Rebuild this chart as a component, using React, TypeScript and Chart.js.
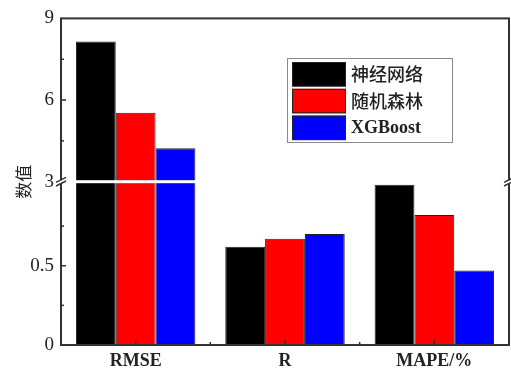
import React, { useEffect, useRef } from 'react';
import { Chart, registerables, LinearScale } from 'chart.js';

// ---- data ----
const CATEGORIES = ['RMSE', 'R', 'MAPE/%'];
const SERIES_LABELS = ['神经网络', '随机森林', 'XGBoost'];
const NEURAL_NET = [8.15, 0.62, 1.01];
const RANDOM_FOREST = [5.53, 0.67, 0.82];
const XGBOOST = [4.23, 0.7, 0.47];
const SERIES_COLORS = ['#000000', '#ff0000', '#0000ff'];
const Y_TICKS = [0, 0.5, 3, 6, 9];
const Y_MINOR_TICKS = [0.25, 0.75, 4.5, 7.5];
const Y_TITLE = '数值';

// broken axis: lower segment 0..LOW_MAX, upper segment HIGH_MIN..HIGH_MAX
const LOW_MAX = 1.03;
const HIGH_MIN = 3;
const HIGH_MAX = 9;
const BREAK_FRAC = 0.5;

class BrokenScale extends LinearScale {
  static id = 'broken';
  static defaults = LinearScale.defaults;
  toFrac(v: number) {
    if (v <= LOW_MAX) return (v / LOW_MAX) * BREAK_FRAC;
    return BREAK_FRAC + ((v - HIGH_MIN) / (HIGH_MAX - HIGH_MIN)) * (1 - BREAK_FRAC);
  }
  getPixelForValue(v: number) {
    return this.getPixelForDecimal(this.toFrac(v));
  }
  getValueForPixel(p: number) {
    const d = this.getDecimalForPixel(p);
    return d <= BREAK_FRAC
      ? (d / BREAK_FRAC) * LOW_MAX
      : HIGH_MIN + ((d - BREAK_FRAC) / (1 - BREAK_FRAC)) * (HIGH_MAX - HIGH_MIN);
  }
  buildTicks() {
    return Y_TICKS.map((value) => ({ value }));
  }
}

Chart.register(...registerables, BrokenScale);

const AXIS_COLOR = '#333';

function line(ctx: CanvasRenderingContext2D, x1: number, y1: number, x2: number, y2: number) {
  ctx.beginPath();
  ctx.moveTo(x1, y1);
  ctx.lineTo(x2, y2);
  ctx.stroke();
}

const decorPlugin = {
  id: 'decor',
  afterDraw(chart: any) {
    const { ctx, chartArea: a, scales } = chart;
    const y = scales.y;
    const x = scales.x;
    const yb = y.getPixelForDecimal(BREAK_FRAC);
    ctx.save();
    // white break band across bars
    ctx.fillStyle = '#fff';
    ctx.fillRect(a.left, yb - 1.5, a.right - a.left, 3);
    // frame
    ctx.strokeStyle = AXIS_COLOR;
    ctx.lineWidth = 2;
    ctx.strokeRect(a.left, a.top, a.right - a.left, a.bottom - a.top);
    // y ticks (inward)
    ctx.lineWidth = 1.5;
    for (const v of Y_TICKS) {
      if (v === HIGH_MIN || v === 0 || v === HIGH_MAX) continue;
      const p = y.getPixelForValue(v);
      line(ctx, a.left, p, a.left + 5, p);
    }
    for (const v of Y_MINOR_TICKS) {
      const p = y.getPixelForValue(v);
      line(ctx, a.left, p, a.left + 3, p);
    }
    // x ticks (inward)
    const n = x.ticks.length;
    for (let i = 0; i < n; i++) {
      const p = x.getPixelForTick(i);
      line(ctx, p, a.bottom, p, a.bottom - 5);
      if (i > 0) {
        const m = (x.getPixelForTick(i - 1) + p) / 2;
        line(ctx, m, a.bottom, m, a.bottom - 3);
      }
    }
    // break marks on both vertical axes
    for (const bx of [a.left, a.right]) {
      ctx.fillStyle = '#fff';
      ctx.fillRect(bx - 2, yb - 1.5, 4, 3);
      ctx.strokeStyle = AXIS_COLOR;
      ctx.lineWidth = 1.5;
      for (const dy of [-1.8, 1.8]) line(ctx, bx - 5, yb + dy + 2.5, bx + 5, yb + dy - 2.5);
    }
    // legend
    const lx = 287.5, ly = 58.5, lw = 165, lh = 84;
    ctx.fillStyle = '#fff';
    ctx.fillRect(lx, ly, lw, lh);
    ctx.strokeStyle = '#8a8a8a';
    ctx.lineWidth = 1;
    ctx.strokeRect(lx, ly, lw, lh);
    chart.data.datasets.forEach((ds: any, i: number) => {
      const top = 62 + i * 26.8;
      ctx.fillStyle = ds.backgroundColor;
      ctx.fillRect(292, top, 54, 24.5);
      ctx.strokeStyle = '#222';
      ctx.lineWidth = 1;
      ctx.strokeRect(292.5, top + 0.5, 53, 23.5);
      ctx.fillStyle = '#222';
      const latin = /^[\x00-\x7f]*$/.test(ds.label);
      ctx.font = latin
        ? 'bold 18px "Liberation Serif"'
        : '500 18px "Noto Sans CJK SC"';
      ctx.textBaseline = 'middle';
      ctx.textAlign = 'left';
      ctx.fillText(ds.label, 351, top + 12.5);
    });
    ctx.restore();
  },
};

export default function App() {
  const ref = useRef<HTMLCanvasElement | null>(null);
  useEffect(() => {
    if (!ref.current) return;
    const seriesData = [NEURAL_NET, RANDOM_FOREST, XGBOOST];
    const chart = new Chart(ref.current, {
      type: 'bar',
      data: {
        labels: CATEGORIES,
        datasets: seriesData.map((d, i) => ({
          label: SERIES_LABELS[i],
          data: d,
          backgroundColor: SERIES_COLORS[i],
          borderColor: '#222',
          borderWidth: 1,
          categoryPercentage: 0.8,
          barPercentage: 1,
        })),
      },
      options: {
        responsive: false,
        animation: false,
        layout: { padding: { top: 16, right: 2, left: 0, bottom: 0 } },
        plugins: { legend: { display: false }, tooltip: { enabled: false } },
        scales: {
          x: {
            grid: { display: false, drawTicks: false },
            border: { display: false },
            ticks: {
              color: '#222',
              font: { family: 'Liberation Serif', size: 18, weight: 'bold' },
              padding: 6,
              maxRotation: 0,
            },
            afterFit: (s: any) => {
              s.height = 25;
            },
          },
          y: {
            type: 'broken' as any,
            min: 0,
            max: HIGH_MAX,
            grid: { display: false, drawTicks: false },
            border: { display: false },
            ticks: {
              autoSkip: false,
              color: '#222',
              font: { family: 'Liberation Serif', size: 19 },
              padding: 7,
              callback: (v: any) => String(v),
            },
            title: {
              display: true,
              text: Y_TITLE,
              color: '#222',
              font: { family: 'Noto Sans CJK SC', size: 17 },
              padding: { top: 13, bottom: 0 },
            },
            afterFit: (s: any) => {
              s.width = 61;
            },
          },
        },
      },
      plugins: [decorPlugin],
    } as any);
    return () => chart.destroy();
  }, []);
  return (
    <div style={{ position: 'absolute', left: 0, top: 0, width: 511, height: 370 }}>
      <canvas ref={ref} width={511} height={370} />
    </div>
  );
}
